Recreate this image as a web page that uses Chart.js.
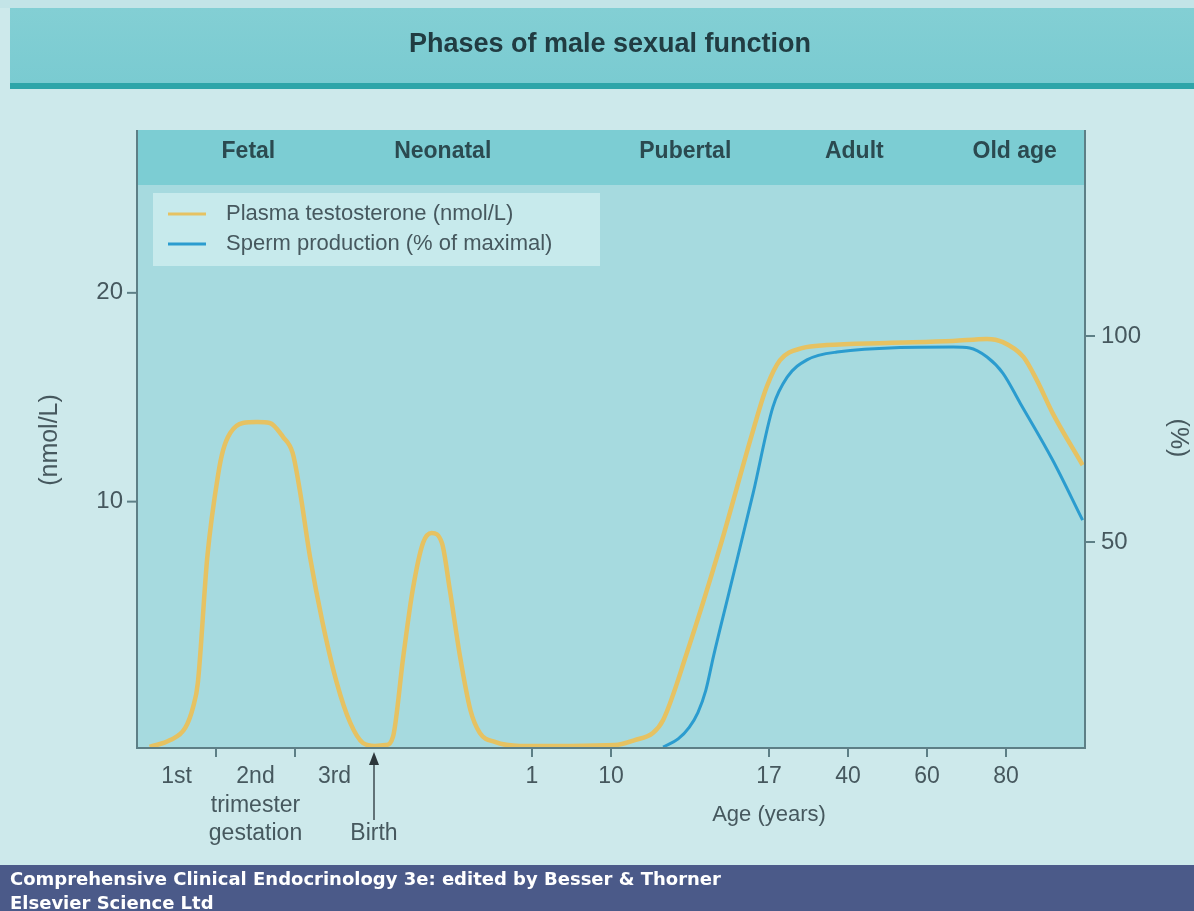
<!DOCTYPE html>
<html>
<head>
<meta charset="utf-8">
<script src="https://cdn.jsdelivr.net/npm/chart.js@4"></script>
<style>
  html, body { margin: 0; padding: 0; background: #cde9eb; }
  #wrap { width: 1194px; height: 911px; position: relative; }
</style>
</head>
<body>
<div id="wrap"><canvas id="grafico" width="1194" height="911"></canvas></div>
<script>
// ---- datos (eje x = escala de tiempo esquemática, 0..12) ----
const testoX = [0.16, 0.42, 0.61, 0.71, 0.77, 0.89, 1.03, 1.09, 1.18, 1.34, 1.52, 1.68, 1.85, 1.97, 2.06, 2.19, 2.35, 2.53, 2.70, 2.86, 3.01, 3.15, 3.24, 3.37, 3.49, 3.62, 3.73, 3.86, 3.96, 4.09, 4.22, 4.34, 4.53, 4.85, 5.48, 6.05, 6.30, 6.53, 6.66, 6.96, 7.38, 7.80, 7.97, 8.14, 8.43, 8.73, 9.49, 10.33, 10.76, 10.96, 11.22, 11.39, 11.59, 11.97];
const testoY = [-1.75, -1.42, -0.84, 0.16, 1.31, 7.35, 11.37, 12.47, 13.29, 13.77, 13.81, 13.77, 13.09, 12.33, 10.56, 7.35, 4.19, 1.31, -0.6, -1.56, -1.7, -1.66, -1.27, 2.56, 5.77, 8.02, 8.5, 8.02, 5.77, 2.56, 0.02, -1.08, -1.51, -1.7, -1.7, -1.66, -1.42, -1.08, -0.46, 2.75, 7.83, 13.43, 15.49, 16.78, 17.36, 17.5, 17.6, 17.69, 17.79, 17.64, 16.93, 15.82, 14.24, 11.75];

const espermaX = [6.66, 6.85, 6.99, 7.10, 7.20, 7.30, 7.51, 7.80, 8.05, 8.23, 8.48, 8.86, 10.33, 10.54, 10.76, 10.96, 11.18, 11.59, 11.97];
const espermaY = [0.2, 2.2, 5.0, 8.6, 14.0, 22.5, 39, 61.9, 82.8, 90, 94.2, 96.1, 97.3, 97.1, 94.9, 91, 83.7, 69.9, 55.3];

const ticksIzq = [10, 20];
const ticksDer = [50, 100];
const marcasX = [1, 2, 5, 6, 8, 9, 10, 11];
const etiquetasXPos = [0.5, 1.5, 2.5, 5, 6, 8, 9, 10, 11];
const etiquetasXTexto = ['1st', '2nd', '3rd', '1', '10', '17', '40', '60', '80'];
const fasesPos = [1.41, 3.87, 6.94, 9.08, 11.11];
const fasesTexto = ['Fetal', 'Neonatal', 'Pubertal', 'Adult', 'Old age'];
const posNacimiento = 3;
const posTrimestre = 1.5;
const posEdad = 8;

const COLOR_TESTO = '#e6c262';
const COLOR_ESPERMA = '#2b9ccf';
const COLOR_EJE = '#5d7f86';
const COLOR_TEXTO = '#46585e';
const FUENTE = '"Liberation Sans", Arial, sans-serif';

const pares = (xs, ys) => xs.map((x, i) => ({ x: x, y: ys[i] }));

// ---- plugin para fondo, ejes y textos ----
const decoracion = {
    id: 'decoracion',
    beforeDraw(chart) {
        const ctx = chart.ctx;
        const a = chart.chartArea;
        const W = chart.width;
        ctx.save();
        // fondo de página
        ctx.fillStyle = '#cde9eb';
        ctx.fillRect(0, 0, W, chart.height);
        // cabecera
        ctx.fillStyle = '#c3e4e7';
        ctx.fillRect(0, 0, W, 8);
        let g = ctx.createLinearGradient(0, 8, 0, 83);
        g.addColorStop(0, '#83cfd4');
        g.addColorStop(1, '#7acbd1');
        ctx.fillStyle = g;
        ctx.fillRect(10, 8, W - 10, 75);
        ctx.fillStyle = '#2ea5a9';
        ctx.fillRect(10, 83, W - 10, 6);
        // área de trazado
        ctx.fillStyle = '#a6dadf';
        ctx.fillRect(a.left, a.top, a.right - a.left, a.bottom - a.top);
        // banda de fases
        ctx.fillStyle = '#7ccdd3';
        ctx.fillRect(a.left, a.top, a.right - a.left, 55);
        // leyenda
        ctx.fillStyle = 'rgba(205,236,239,0.85)';
        ctx.fillRect(153, 193, 447, 73);
        ctx.restore();
    },
    afterDraw(chart) {
        const ctx = chart.ctx;
        const a = chart.chartArea;
        const sx = chart.scales.x;
        const sl = chart.scales.yT;
        const sr = chart.scales.yS;
        const W = chart.width;
        ctx.save();

        // título
        ctx.fillStyle = '#213c42';
        ctx.font = 'bold 27px ' + FUENTE;
        ctx.textAlign = 'center';
        ctx.textBaseline = 'middle';
        ctx.fillText('Phases of male sexual function', 610, 45);

        // fases
        ctx.fillStyle = '#2b4a50';
        ctx.font = 'bold 23px ' + FUENTE;
        fasesTexto.forEach((t, i) => ctx.fillText(t, sx.getPixelForValue(fasesPos[i]), 152));

        // leyenda
        ctx.font = '22px ' + FUENTE;
        ctx.textAlign = 'left';
        ctx.lineWidth = 3;
        chart.data.datasets.forEach((ds, i) => {
            const y = 214 + i * 30;
            ctx.strokeStyle = ds.borderColor;
            ctx.beginPath();
            ctx.moveTo(168, y);
            ctx.lineTo(206, y);
            ctx.stroke();
            ctx.fillStyle = COLOR_TEXTO;
            ctx.fillText(ds.label, 226, y);
        });

        // ejes
        ctx.strokeStyle = COLOR_EJE;
        ctx.lineWidth = 2;
        ctx.beginPath();
        ctx.moveTo(a.left, a.top);
        ctx.lineTo(a.left, a.bottom);
        ctx.lineTo(a.right, a.bottom);
        ctx.lineTo(a.right, a.top);
        ctx.stroke();

        ctx.font = '24px ' + FUENTE;
        ctx.fillStyle = COLOR_TEXTO;
        ctx.textBaseline = 'middle';
        ticksIzq.forEach(v => {
            const y = sl.getPixelForValue(v);
            ctx.beginPath(); ctx.moveTo(a.left - 10, y); ctx.lineTo(a.left, y); ctx.stroke();
            ctx.textAlign = 'right';
            ctx.fillText(String(v), a.left - 14, y);
        });
        ticksDer.forEach(v => {
            const y = sr.getPixelForValue(v);
            ctx.beginPath(); ctx.moveTo(a.right, y); ctx.lineTo(a.right + 10, y); ctx.stroke();
            ctx.textAlign = 'left';
            ctx.fillText(String(v), a.right + 16, y);
        });
        marcasX.forEach(v => {
            const x = sx.getPixelForValue(v);
            ctx.beginPath(); ctx.moveTo(x, a.bottom); ctx.lineTo(x, a.bottom + 9); ctx.stroke();
        });

        ctx.textAlign = 'center';
        ctx.font = '23px ' + FUENTE;
        etiquetasXTexto.forEach((t, i) => ctx.fillText(t, sx.getPixelForValue(etiquetasXPos[i]), 777));
        const xt = sx.getPixelForValue(posTrimestre);
        ctx.fillText('trimester', xt, 806);
        ctx.fillText('gestation', xt, 834);
        const xb = sx.getPixelForValue(posNacimiento);
        ctx.fillText('Birth', xb, 834);
        ctx.font = '22px ' + FUENTE;
        ctx.fillText('Age (years)', sx.getPixelForValue(posEdad), 815);

        // flecha de nacimiento
        ctx.strokeStyle = '#3c4a50';
        ctx.fillStyle = '#2c363a';
        ctx.lineWidth = 1.5;
        ctx.beginPath(); ctx.moveTo(xb, 820); ctx.lineTo(xb, 760); ctx.stroke();
        ctx.beginPath();
        ctx.moveTo(xb, 752); ctx.lineTo(xb - 5, 765); ctx.lineTo(xb + 5, 765); ctx.closePath();
        ctx.fill();

        // títulos de eje rotados
        ctx.fillStyle = COLOR_TEXTO;
        ctx.font = '25px ' + FUENTE;
        ctx.save();
        ctx.translate(50, 440);
        ctx.rotate(-Math.PI / 2);
        ctx.fillText('(nmol/L)', 0, 0);
        ctx.restore();
        ctx.save();
        ctx.translate(1178, 438);
        ctx.rotate(Math.PI / 2);
        ctx.fillText('(%)', 0, 0);
        ctx.restore();

        // pie
        ctx.fillStyle = '#4b5a89';
        ctx.fillRect(0, 865, W, 46);
        ctx.fillStyle = '#ffffff';
        ctx.font = 'bold 18px "DejaVu Sans", Verdana, sans-serif';
        ctx.textAlign = 'left';
        ctx.fillText('Comprehensive Clinical Endocrinology 3e: edited by Besser & Thorner', 10, 880);
        ctx.fillText('Elsevier Science Ltd', 10, 904);
        ctx.restore();
    }
};

new Chart(document.getElementById('grafico').getContext('2d'), {
    type: 'line',
    data: {
        datasets: [
            { label: 'Plasma testosterone (nmol/L)', data: pares(testoX, testoY), yAxisID: 'yT', borderColor: COLOR_TESTO, borderWidth: 4.5, pointRadius: 0, cubicInterpolationMode: 'monotone', fill: false },
            { label: 'Sperm production (% of maximal)', data: pares(espermaX, espermaY), yAxisID: 'yS', borderColor: COLOR_ESPERMA, borderWidth: 3, pointRadius: 0, cubicInterpolationMode: 'monotone', fill: false }
        ]
    },
    options: {
        responsive: false,
        animation: false,
        layout: { padding: { left: 137, right: 109, top: 130, bottom: 163 } },
        scales: {
            x: { type: 'linear', min: 0, max: 12, display: false },
            yT: { type: 'linear', min: -1.8, max: 27.8, display: false },
            yS: { type: 'linear', min: 0, max: 150, display: false }
        },
        plugins: { legend: { display: false }, tooltip: { enabled: false } }
    },
    plugins: [decoracion]
});
</script>
</body>
</html>
